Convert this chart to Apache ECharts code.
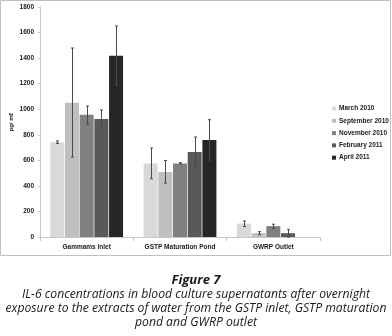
<!DOCTYPE html>
<html>
<head>
<meta charset="utf-8">
<script src="https://cdn.jsdelivr.net/npm/echarts@6/dist/echarts.min.js"></script>
<style>
  html, body { margin: 0; padding: 0; background: #fff; }
  #chart { width: 392px; height: 336px; }
</style>
</head>
<body>
<div id="chart"></div>
<script>
var sites = ['Gammams Inlet', 'GSTP Maturation Pond', 'GWRP Outlet'];
var months = ['March 2010', 'September 2010', 'November 2010', 'February 2011', 'April 2011'];
var colors = ['#d9d9d9', '#bfbfbf', '#808080', '#595959', '#262626'];

// mean values per month, one entry per site
var march2010 = [742, 576, 105];
var september2010 = [1050, 508, 30];
var november2010 = [957, 576, 85];
var february2011 = [923, 665, 30];
var april2011 = [1418, 759, 0];

// error bar low / high per month
var marchLow = [732, 456, 82], marchHigh = [752, 696, 125];
var septemberLow = [626, 422, 18], septemberHigh = [1479, 599, 42];
var novemberLow = [884, 570, 68], novemberHigh = [1025, 582, 100];
var februaryLow = [853, 548, 0], februaryHigh = [994, 782, 60];
var aprilLow = [1189, 602, 0], aprilHigh = [1651, 918, 0];

var values = [march2010, september2010, november2010, february2011, april2011];
var lows = [marchLow, septemberLow, novemberLow, februaryLow, aprilLow];
var highs = [marchHigh, septemberHigh, novemberHigh, februaryHigh, aprilHigh];

var barW = 14;
var gapW = 0.7;

var chart = echarts.init(document.getElementById('chart'), null, {renderer: 'canvas'});

var series = [];
months.forEach(function (m, i) {
  series.push({
    name: m,
    type: 'bar',
    data: values[i],
    barWidth: barW,
    barGap: '5%',
    itemStyle: { color: colors[i] },
    z: 2
  });
});

// error bars, one custom series per month
months.forEach(function (m, i) {
  var errData = [];
  sites.forEach(function (s, j) {
    if (highs[i][j] > lows[i][j]) errData.push([j, lows[i][j], highs[i][j]]);
  });
  var offset = -(5 * barW + 4 * gapW) / 2 + i * (barW + gapW) + barW / 2;
  series.push({
    type: 'custom',
    data: errData,
    z: 5,
    silent: true,
    encode: { x: 0, y: [1, 2] },
    renderItem: function (params, api) {
      var lo = api.coord([api.value(0), api.value(1)]);
      var hi = api.coord([api.value(0), api.value(2)]);
      var x = Math.round(lo[0] + offset) + 0.5;
      var st = { stroke: '#4a4a4a', lineWidth: 1 };
      return {
        type: 'group',
        children: [
          { type: 'line', shape: { x1: x, y1: hi[1], x2: x, y2: lo[1] }, style: st },
          { type: 'line', shape: { x1: x - 1.5, y1: hi[1], x2: x + 1.5, y2: hi[1] }, style: st },
          { type: 'line', shape: { x1: x - 1.5, y1: lo[1], x2: x + 1.5, y2: lo[1] }, style: st }
        ]
      };
    }
  });
});

var labelFont = { fontFamily: 'Liberation Sans', fontWeight: 'bold', fontSize: 6.5, color: '#1a1a1a' };
var captionFont = 'italic 12.2px "Open Sans"';

var option = {
  animation: false,
  backgroundColor: '#fff',
  grid: { left: 40, right: 72, top: 7, bottom: 99, containLabel: false, outerBoundsMode: 'none' },
  legend: {
    orient: 'vertical',
    left: 327,
    top: 99,
    icon: 'rect',
    itemWidth: 4,
    itemHeight: 4,
    itemGap: 3.3,
    data: months,
    textStyle: Object.assign({ lineHeight: 9, padding: [0, 0, 0, -2] }, labelFont)
  },
  xAxis: {
    type: 'category',
    data: sites,
    axisLine: { lineStyle: { color: '#c8c8c8' } },
    axisTick: { show: true, length: 4, lineStyle: { color: '#c8c8c8' } },
    axisLabel: Object.assign({ interval: 0, margin: 7 }, labelFont)
  },
  yAxis: {
    type: 'value',
    min: 0,
    max: 1800,
    interval: 200,
    name: 'pg/ mℓ',
    nameLocation: 'middle',
    nameGap: 26,
    nameMoveOverlap: false,
    nameTextStyle: { fontFamily: 'Liberation Sans', fontWeight: 'bold', fontSize: 6, color: '#1a1a1a' },
    axisLine: { show: true, lineStyle: { color: '#c8c8c8' } },
    axisTick: { show: true, length: 2, lineStyle: { color: '#c8c8c8' } },
    splitLine: { show: false },
    axisLabel: Object.assign({ margin: 6, formatter: function (v) { return String(v); } }, labelFont)
  },
  graphic: [
    {
      type: 'rect',
      shape: { x: 0.5, y: 0.5, width: 390, height: 255 },
      style: { fill: null, stroke: '#c0c0c0', lineWidth: 1 },
      silent: true
    },
    {
      type: 'text', x: 196, y: 280,
      style: { text: 'Figure 7', font: 'italic bold 13px "Open Sans"', fill: '#1a1a1a', align: 'center', verticalAlign: 'middle' }
    },
    {
      type: 'text', x: 196, y: 295,
      style: { text: 'IL-6 concentrations in blood culture supernatants after overnight', font: captionFont, fill: '#1a1a1a', align: 'center', verticalAlign: 'middle' }
    },
    {
      type: 'text', x: 196, y: 309,
      style: { text: 'exposure to the extracts of water from the GSTP inlet, GSTP maturation', font: captionFont, fill: '#1a1a1a', align: 'center', verticalAlign: 'middle' }
    },
    {
      type: 'text', x: 196, y: 323,
      style: { text: 'pond and GWRP outlet', font: captionFont, fill: '#1a1a1a', align: 'center', verticalAlign: 'middle' }
    }
  ],
  series: series
};

chart.setOption(option);
</script>
</body>
</html>
